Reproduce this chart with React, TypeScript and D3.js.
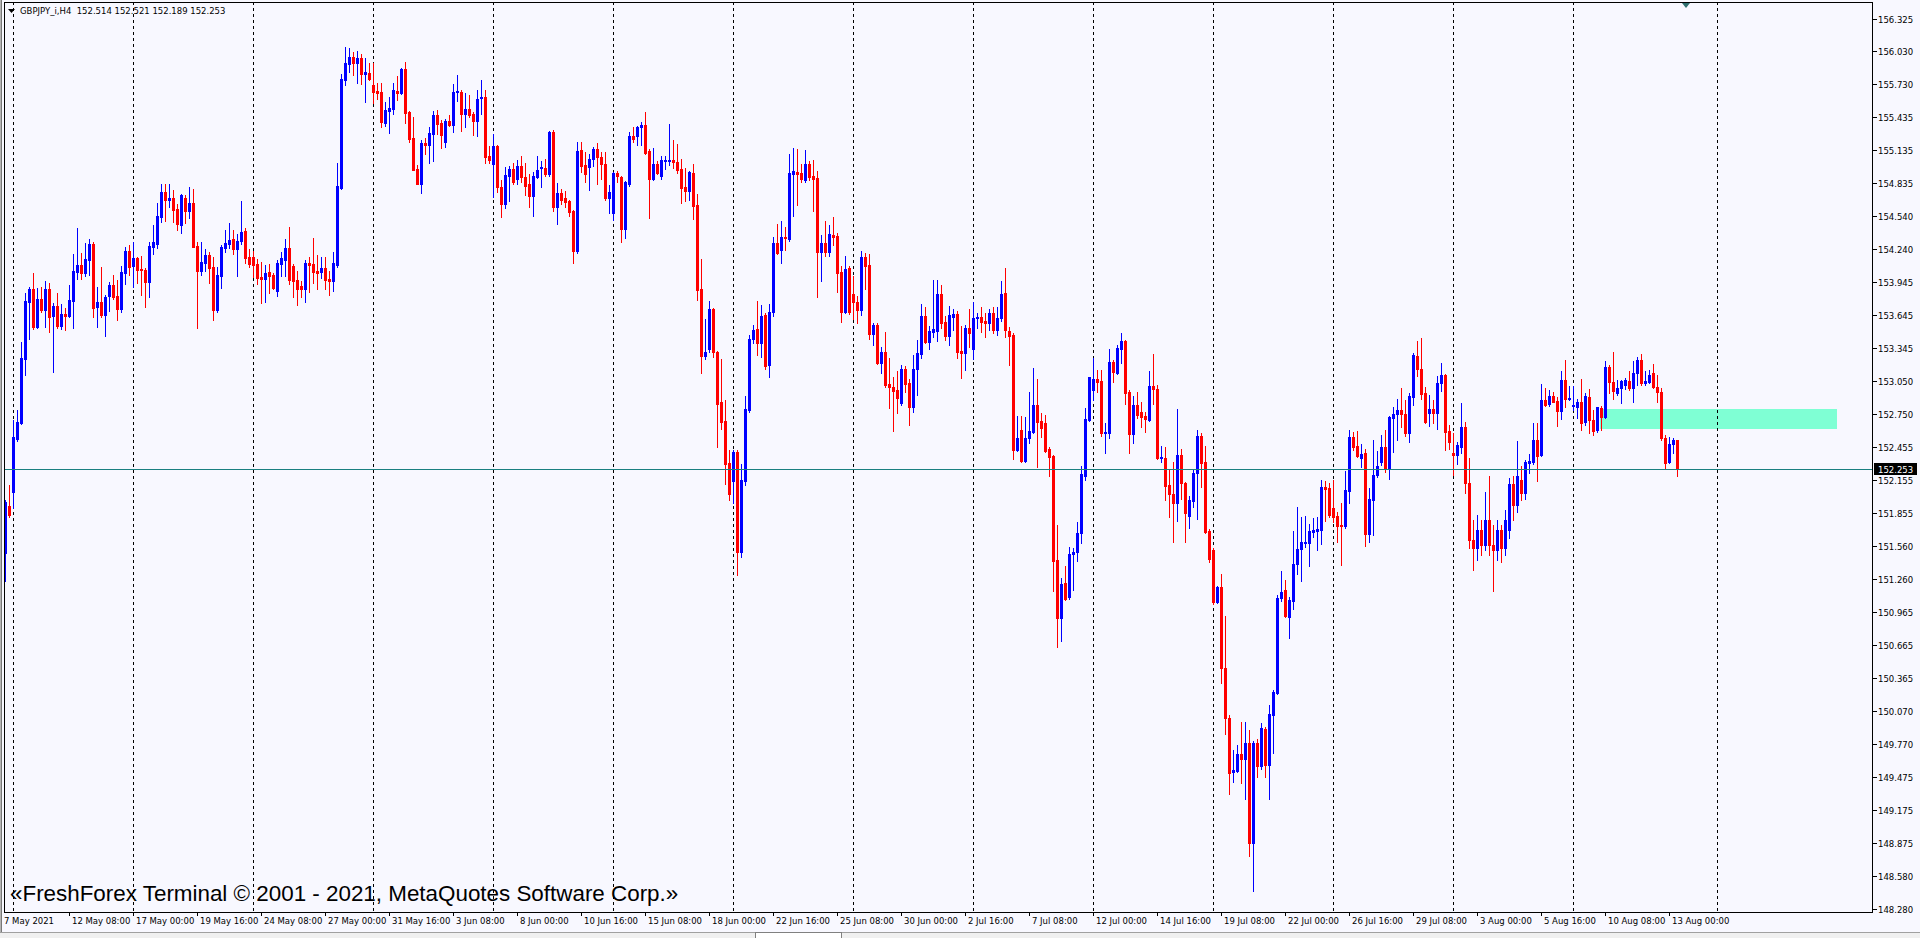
import React from 'react';
import * as d3 from 'd3';

const titleText = 'GBPJPY_i,H4  152.514 152.521 152.189 152.253';
const copyrightText = '«FreshForex Terminal © 2001 - 2021, MetaQuotes Software Corp.»';

const openP = [151.496,151.921,152.047,152.526,152.671,153.249,153.764,153.881,153.538,153.791,153.692,153.881,153.637,153.728,153.547,153.655,153.637,153.773,154.035,154.098,154.026,154.143,154.288,153.719,153.764,153.646,153.818,153.917,153.818,153.701,154.026,154.224,154.089,154.161,154.062,154.053,153.944,154.261,154.288,154.532,154.757,154.685,154.703,154.604,154.459,154.703,154.586,154.658,154.270,154.044,154.116,154.188,154.080,153.692,153.999,154.252,154.288,154.333,154.242,154.315,154.405,154.170,154.170,154.107,153.990,153.972,154.035,154.008,153.863,154.107,154.143,154.252,154.089,153.963,153.908,153.881,154.116,154.107,154.044,154.035,154.071,153.972,153.954,154.098,154.794,155.769,155.914,155.977,155.923,155.968,155.824,155.833,155.724,155.670,155.661,155.381,155.489,155.507,155.670,155.652,155.869,155.480,155.245,154.965,154.830,155.200,155.182,155.281,155.453,155.381,155.209,155.399,155.363,155.658,155.661,155.462,155.507,155.462,155.399,155.607,155.616,155.083,155.010,155.173,154.803,154.649,154.902,154.965,154.875,154.992,154.893,154.830,154.721,154.893,154.974,154.974,154.920,155.300,154.622,154.748,154.703,154.676,154.586,154.224,155.137,155.001,154.983,155.056,155.146,155.074,155.010,154.703,154.568,154.929,154.893,154.423,154.830,155.263,155.263,155.345,155.363,155.128,154.875,155.010,154.902,155.040,155.040,155.047,155.028,154.965,154.803,154.767,154.929,154.640,153.881,153.276,153.339,153.701,153.312,152.860,152.689,152.309,152.147,152.409,151.505,152.147,152.788,153.429,153.520,153.393,153.646,153.195,153.673,154.297,154.234,154.351,154.333,154.920,154.938,154.929,154.866,155.010,154.902,154.884,154.215,154.297,154.215,154.369,154.360,154.035,153.673,154.071,153.836,153.764,153.692,154.170,154.098,153.475,153.556,153.213,153.312,153.023,152.996,152.969,152.851,153.159,153.032,152.815,153.159,153.294,153.637,153.402,153.493,153.502,153.836,153.583,153.456,153.628,153.655,153.321,153.303,153.529,153.339,153.619,153.628,153.592,153.574,153.664,153.511,153.619,153.845,153.502,153.466,152.427,152.607,152.327,152.535,152.589,152.833,152.689,152.671,152.436,152.372,151.433,150.909,151.225,151.099,151.487,151.505,151.677,152.192,152.698,152.969,153.068,153.050,152.580,152.580,153.222,153.122,153.339,153.411,152.951,152.571,152.833,152.770,152.734,152.698,153.005,152.978,152.354,152.354,152.110,152.029,151.948,152.381,152.128,151.831,151.966,152.219,152.553,152.318,151.695,151.523,151.054,151.189,150.457,150.006,149.518,149.527,149.680,149.635,149.780,148.876,149.780,149.572,149.906,149.581,150.033,150.232,151.090,151.162,150.918,151.063,151.397,151.532,151.587,151.587,151.686,151.695,151.704,152.092,152.083,151.903,151.831,151.749,151.740,152.056,152.544,152.463,152.354,152.400,151.668,151.975,152.201,152.318,152.454,152.255,152.716,152.752,152.788,152.752,152.580,152.905,153.276,153.159,152.942,152.761,152.797,152.761,153.032,153.104,152.598,152.400,152.381,152.454,152.635,152.128,151.614,151.541,151.704,151.568,151.794,151.568,151.523,151.704,151.541,151.704,152.120,151.930,152.156,152.038,152.309,152.318,152.517,152.381,152.878,152.842,152.915,152.869,152.779,153.059,152.887,152.824,152.815,152.860,152.680,152.905,152.698,152.607,152.806,152.725,153.177,153.041,152.942,152.987,153.014,153.050,152.987,153.122,153.240,153.032,153.041,153.122,152.996,152.951,152.535,152.318,152.481,152.514];

const highP = [151.975,152.110,152.698,152.788,153.402,153.845,153.899,154.026,153.890,153.899,153.954,153.936,153.755,153.845,153.746,153.710,153.917,154.197,154.432,154.206,154.297,154.333,154.306,153.899,154.080,153.827,153.944,154.008,153.963,154.089,154.261,154.279,154.306,154.170,154.179,154.071,154.306,154.459,154.658,154.830,154.830,154.830,154.776,154.649,154.739,154.730,154.803,154.785,154.306,154.306,154.242,154.215,154.170,154.080,154.279,154.414,154.477,154.414,154.378,154.676,154.432,154.242,154.224,154.152,154.125,154.098,154.107,154.026,154.143,154.215,154.333,154.441,154.107,154.044,153.954,154.143,154.170,154.342,154.188,154.170,154.170,154.044,154.215,155.019,155.823,156.067,156.058,156.022,156.031,156.004,155.968,155.923,155.923,155.742,155.742,155.571,155.616,155.742,155.805,155.878,155.932,155.489,155.435,155.001,155.227,155.245,155.345,155.489,155.498,155.408,155.417,155.453,155.733,155.814,155.679,155.652,155.634,155.480,155.679,155.769,155.679,155.173,155.281,155.182,154.866,154.983,154.992,155.019,155.047,155.083,155.019,154.920,154.938,155.083,155.037,155.056,155.309,155.318,154.839,154.785,154.767,154.685,154.595,155.209,155.209,155.119,155.101,155.164,155.200,155.119,155.119,154.821,154.938,154.947,154.902,154.857,155.300,155.345,155.354,155.390,155.480,155.146,155.155,155.037,155.083,155.083,155.372,155.227,155.191,155.056,154.974,154.947,155.010,154.739,154.152,153.610,153.773,153.710,153.321,153.249,152.878,152.427,152.427,152.427,152.300,152.915,153.466,153.556,153.773,153.737,153.664,153.746,154.351,154.468,154.495,154.441,155.101,155.155,155.146,155.010,155.137,155.037,155.047,154.947,154.369,154.495,154.459,154.532,154.387,154.089,154.179,154.089,153.999,153.818,154.224,154.206,154.197,153.575,153.574,153.357,153.493,153.258,153.086,153.140,153.195,153.186,153.068,153.285,153.420,153.746,153.719,153.547,153.963,153.963,153.917,153.637,153.728,153.701,153.682,153.547,153.556,153.701,153.764,153.664,153.719,153.664,153.701,153.719,153.719,153.954,154.071,153.538,153.484,152.734,152.734,152.725,152.951,153.167,153.068,152.761,152.743,152.454,152.380,151.749,151.270,151.379,151.550,151.541,151.776,152.282,152.806,153.086,153.258,153.149,153.149,152.671,153.339,153.240,153.375,153.484,153.420,152.969,152.915,152.951,152.860,152.770,153.140,153.294,153.014,152.463,152.454,152.246,152.318,152.797,152.436,152.138,152.011,152.246,152.607,152.580,152.463,151.713,151.541,151.198,151.306,150.927,150.033,149.716,149.762,149.969,149.969,149.897,149.798,149.816,149.960,149.924,150.123,150.259,151.117,151.334,151.252,151.099,151.695,151.912,151.821,151.830,151.758,151.812,151.821,152.156,152.147,152.129,152.156,151.867,151.948,152.237,152.607,152.589,152.598,152.481,152.436,152.083,152.517,152.418,152.562,152.607,152.734,152.815,152.888,152.987,152.878,152.942,153.303,153.411,153.438,152.996,152.924,152.878,153.095,153.213,153.110,152.653,152.580,152.499,152.851,152.680,152.354,151.794,151.840,151.794,152.047,152.192,151.749,151.794,151.749,151.885,152.174,152.192,152.508,152.282,152.336,152.391,152.671,152.671,153.023,152.987,152.969,152.951,152.905,153.140,153.240,153.005,153.005,152.887,153.068,152.942,152.978,152.788,152.815,152.824,153.231,153.195,153.312,153.059,153.059,153.077,153.140,153.231,153.267,153.294,153.140,153.149,153.204,153.104,152.987,152.562,152.544,152.535,152.521];

const lowP = [151.243,151.821,151.903,152.508,152.660,153.104,153.429,153.520,153.530,153.673,153.538,153.493,153.131,153.529,153.520,153.511,153.628,153.529,153.972,153.972,153.999,154.008,153.628,153.538,153.628,153.457,153.682,153.791,153.601,153.673,153.926,154.008,153.899,153.936,153.827,153.719,153.809,154.197,154.252,154.486,154.495,154.622,154.486,154.414,154.387,154.477,154.523,154.261,153.529,154.008,154.044,153.936,153.601,153.673,153.890,154.215,154.252,154.197,153.999,154.288,154.116,154.080,153.990,153.926,153.755,153.764,153.845,153.881,153.818,153.999,153.999,153.926,153.809,153.737,153.809,153.764,153.854,153.936,153.881,153.981,153.881,153.827,153.863,154.080,154.785,155.724,155.842,155.814,155.742,155.733,155.571,155.769,155.562,155.598,155.345,155.354,155.290,155.462,155.589,155.643,155.381,155.209,154.956,154.830,154.748,155.101,155.019,155.037,155.281,155.155,155.164,155.354,155.300,155.580,155.309,155.345,155.435,155.272,155.263,155.462,155.019,155.019,154.712,154.757,154.532,154.613,154.676,154.830,154.830,154.848,154.730,154.622,154.541,154.884,154.803,154.902,154.902,154.586,154.468,154.649,154.622,154.541,154.116,154.206,154.938,154.848,154.776,154.992,154.830,154.875,154.685,154.568,154.505,154.848,154.306,154.342,154.812,155.209,155.182,155.182,155.101,154.523,154.866,154.920,154.875,154.965,155.001,154.974,154.929,154.658,154.676,154.685,154.514,153.782,153.122,153.249,153.312,153.267,152.454,152.616,152.120,151.975,151.948,151.297,151.460,152.110,152.770,153.393,153.285,153.267,153.159,153.086,153.637,154.197,154.116,154.234,154.315,154.541,154.640,154.848,154.848,154.866,154.586,153.809,153.954,154.179,154.179,154.279,153.854,153.583,153.664,153.655,153.610,153.574,153.646,153.881,153.429,153.375,153.204,153.122,152.996,152.806,152.598,152.761,152.833,152.951,152.653,152.770,152.924,153.258,153.393,153.339,153.448,153.411,153.529,153.420,153.375,153.511,153.258,153.077,153.149,153.357,153.249,153.529,153.493,153.448,153.511,153.484,153.466,153.592,153.448,153.195,152.345,152.418,152.318,152.318,152.490,152.580,152.273,152.544,152.409,152.192,151.153,150.647,150.701,151.072,151.081,151.162,151.424,151.587,152.156,152.690,152.878,152.951,152.553,152.400,152.535,153.041,153.115,153.213,152.842,152.400,152.490,152.716,152.635,152.589,152.689,152.842,152.345,152.318,151.975,151.821,151.596,151.785,151.984,151.596,151.722,151.912,151.803,152.092,151.677,151.415,151.035,151.045,150.322,149.861,149.319,149.427,149.520,149.418,149.274,148.759,148.443,149.473,149.545,149.473,149.274,149.689,150.222,151.063,150.918,150.728,150.990,151.306,151.243,151.550,151.379,151.641,151.523,151.577,151.785,151.821,151.776,151.596,151.388,151.722,151.948,152.427,152.363,152.273,151.559,151.596,151.659,152.183,152.291,152.228,152.165,152.409,152.517,152.635,152.553,152.499,152.833,153.095,152.888,152.671,152.644,152.671,152.616,152.960,152.427,152.436,152.201,152.300,152.400,152.038,151.541,151.343,151.433,151.478,151.523,151.478,151.153,151.433,151.415,151.478,151.632,151.794,151.867,151.975,151.984,152.219,152.300,152.147,152.372,152.824,152.824,152.860,152.644,152.707,152.815,152.878,152.788,152.716,152.607,152.653,152.580,152.562,152.589,152.607,152.716,152.942,152.887,152.924,152.851,152.978,152.969,152.860,153.014,153.014,153.014,153.032,152.987,152.860,152.517,152.264,152.309,152.400,152.189];

const closeP = [151.957,151.840,152.544,152.680,153.258,153.773,153.881,153.538,153.791,153.692,153.881,153.628,153.728,153.547,153.655,153.637,153.782,154.044,154.098,154.026,154.152,154.288,153.710,153.764,153.646,153.809,153.917,153.809,153.701,154.035,154.224,154.080,154.161,154.053,154.050,153.944,154.270,154.306,154.541,154.757,154.685,154.703,154.595,154.468,154.730,154.586,154.658,154.265,154.044,154.125,154.188,154.071,153.692,154.008,154.261,154.297,154.324,154.242,154.315,154.396,154.161,154.107,154.098,153.981,153.972,154.026,153.999,153.890,154.116,154.161,154.252,153.963,153.954,153.881,153.881,154.116,154.098,154.035,154.030,154.071,153.963,153.954,154.116,154.812,155.778,155.923,155.977,155.923,155.968,155.824,155.842,155.778,155.661,155.652,155.390,155.498,155.516,155.679,155.652,155.869,155.471,155.236,154.960,154.834,155.200,155.182,155.290,155.453,155.372,155.272,155.399,155.363,155.661,155.670,155.462,155.507,155.453,155.399,155.598,155.616,155.074,155.047,155.173,154.803,154.649,154.911,154.965,154.848,154.992,154.893,154.812,154.721,154.902,154.956,154.983,154.920,155.300,154.622,154.748,154.685,154.667,154.577,154.224,155.128,154.992,154.920,155.056,155.146,155.074,155.010,154.703,154.757,154.929,154.902,154.423,154.848,155.263,155.236,155.345,155.363,155.110,154.875,155.010,154.929,155.047,155.047,155.047,155.028,154.956,154.794,154.767,154.938,154.631,153.872,153.276,153.312,153.701,153.312,152.842,152.680,152.300,152.029,152.409,151.505,152.156,152.797,153.429,153.511,153.393,153.637,153.186,153.673,154.297,154.206,154.351,154.342,154.929,154.947,154.920,154.875,155.010,154.893,154.875,154.215,154.297,154.215,154.378,154.351,154.026,153.673,154.062,153.673,153.764,153.692,154.170,154.089,153.475,153.556,153.213,153.312,153.014,152.996,152.960,152.897,153.159,153.023,152.815,153.159,153.303,153.637,153.402,153.502,153.520,153.836,153.574,153.456,153.646,153.655,153.312,153.303,153.529,153.484,153.619,153.628,153.583,153.574,153.664,153.511,153.619,153.836,153.511,153.456,152.427,152.535,152.327,152.535,152.598,152.833,152.680,152.625,152.418,152.363,151.424,150.909,151.216,151.081,151.487,151.505,151.677,152.210,152.707,153.086,153.068,153.041,152.580,152.589,153.222,153.131,153.348,153.411,152.942,152.571,152.833,152.743,152.725,152.707,153.005,152.978,152.354,152.363,152.101,152.029,151.948,152.381,152.128,151.858,151.975,152.219,152.553,152.309,151.686,151.442,151.054,151.189,150.457,150.006,149.509,149.536,149.680,149.635,149.780,148.876,149.780,149.572,149.915,149.581,150.042,150.241,151.090,151.144,150.927,151.072,151.397,151.532,151.596,151.596,151.695,151.704,151.713,152.092,152.074,151.840,151.821,151.740,151.740,152.065,152.544,152.454,152.372,152.391,151.668,151.984,152.201,152.282,152.454,152.255,152.725,152.752,152.788,152.752,152.580,152.915,153.285,153.159,152.933,152.680,152.797,152.761,153.032,153.104,152.589,152.499,152.381,152.472,152.635,152.128,151.614,151.541,151.704,151.568,151.794,151.568,151.523,151.704,151.541,151.794,152.120,151.930,152.192,152.038,152.318,152.327,152.517,152.372,152.878,152.833,152.915,152.860,152.779,153.059,152.887,152.897,152.830,152.860,152.671,152.915,152.698,152.598,152.815,152.725,153.177,153.041,152.960,152.987,153.050,153.059,152.987,153.122,153.240,153.032,153.050,153.104,152.996,152.951,152.535,152.309,152.481,152.517,152.253];

const priceTickLabels = ['156.325','156.030','155.730','155.435','155.135','154.835','154.540','154.240','153.945','153.645','153.345','153.050','152.750','152.455','152.155','151.855','151.560','151.260','150.965','150.665','150.365','150.070','149.770','149.475','149.175','148.875','148.580','148.280'];

const timeLabelBars = [0,16,32,48,64,80,96,112,128,144,160,176,192,208,224,240,256,272,288,304,320,336,352,368,384,400,416];
const timeLabelTexts = ['7 May 2021','12 May 08:00','17 May 00:00','19 May 16:00','24 May 08:00','27 May 00:00','31 May 16:00','3 Jun 08:00','8 Jun 00:00','10 Jun 16:00','15 Jun 08:00','18 Jun 00:00','22 Jun 16:00','25 Jun 08:00','30 Jun 00:00','2 Jul 16:00','7 Jul 08:00','12 Jul 00:00','14 Jul 16:00','19 Jul 08:00','22 Jul 00:00','26 Jul 16:00','29 Jul 08:00','3 Aug 00:00','5 Aug 16:00','10 Aug 08:00','13 Aug 00:00'];

const weekGridBars = [2,32,62,92,122,152,182,212,242,272,302,332,362,392,428];

const bidPrice = 152.253;
const bidText = '152.253';
const zoneTopPrice = 152.797;
const zoneBottomPrice = 152.617;
const zoneStartBar = 399;
const zoneEndBar = 458;
const shiftMarkerBar = 420;

const AXIS_FONT = '"DejaVu Sans", Verdana, sans-serif';

export default function App() {
  const W = 1920;
  const H = 938;
  const plotLeft = 4;
  const plotRight = 1872;
  const plotTop = 2;
  const plotBottom = 912;

  const x = d3.scaleLinear().domain([0, 418]).range([5, 5 + 4 * 418]);
  const y = d3.scaleLinear().domain([148.28, 156.325]).range([909, 18.5]);
  const py = (v: number) => Math.round(y(v));

  const bars = d3.range(openP.length).map((i) => ({
    i,
    o: openP[i],
    h: highP[i],
    l: lowP[i],
    c: closeP[i],
  }));

  const bidY = Math.floor(y(bidPrice)) + 0.5;

  return (
    <svg width={W} height={H} style={{ display: 'block', position: 'absolute', left: 0, top: 0 }}>
      <defs>
        <clipPath id="plotClip">
          <rect x={plotLeft + 1} y={plotTop + 1} width={plotRight - plotLeft - 1} height={plotBottom - plotTop - 1} />
        </clipPath>
      </defs>
      <rect x={0} y={0} width={W} height={H} fill="#F8F8FF" />

      <rect x={0} y={0} width={1} height={H} fill="#B4B4B4" />
      <rect x={1} y={0} width={1} height={H} fill="#787878" />

      <g clipPath="url(#plotClip)" shapeRendering="crispEdges">
        <rect
          x={x(zoneStartBar) - 1}
          y={py(zoneTopPrice)}
          width={x(zoneEndBar) - x(zoneStartBar) + 1}
          height={py(zoneBottomPrice) - py(zoneTopPrice)}
          fill="#7FFFD4"
        />
        {weekGridBars.map((b) => (
          <line
            key={'g' + b}
            x1={x(b) + 0.5}
            x2={x(b) + 0.5}
            y1={plotTop}
            y2={plotBottom}
            stroke="#000"
            strokeWidth={1}
            strokeDasharray="3,3"
          />
        ))}
        {bars.map((d) => {
          const bull = d.c >= d.o;
          const col = bull ? '#0000FF' : '#FF0000';
          const xc = x(d.i);
          const yo = py(d.o);
          const yc = py(d.c);
          const top = Math.min(yo, yc);
          const bot = Math.max(yo, yc);
          const yh = Math.min(py(d.h), top);
          const yl = Math.max(py(d.l), bot);
          return (
            <g key={d.i}>
              <rect x={xc} y={yh} width={1} height={yl - yh + 1} fill={col} />
              <rect x={xc - 1} y={top} width={3} height={bot - top + 1} fill={col} />
            </g>
          );
        })}
        <line x1={plotLeft} x2={plotRight} y1={bidY} y2={bidY} stroke="#1A7F80" strokeWidth={1} />
      </g>

      <rect
        x={plotLeft + 0.5}
        y={plotTop + 0.5}
        width={plotRight - plotLeft}
        height={plotBottom - plotTop}
        fill="none"
        stroke="#000"
        strokeWidth={1}
        shapeRendering="crispEdges"
      />

      <polygon points="8,9 15,9 11.5,13" fill="#000" />
      <text x={20} y={13.5} fontFamily={AXIS_FONT} fontSize={8.5} fill="#000" style={{ whiteSpace: 'pre' }}>
        {titleText}
      </text>

      <polygon
        points={`${x(shiftMarkerBar) - 3},${plotTop + 1} ${x(shiftMarkerBar) + 5},${plotTop + 1} ${x(shiftMarkerBar) + 1},${plotTop + 6}`}
        fill="#2F6F6F"
      />

      <g shapeRendering="crispEdges">
        {priceTickLabels.map((t) => {
          const yy = Math.round(y(+t)) + 0.5;
          return (
            <line key={'pt' + t} x1={plotRight + 0.5} x2={plotRight + 4.5} y1={yy} y2={yy} stroke="#000" />
          );
        })}
      </g>
      {priceTickLabels.map((t) => (
        <text key={'pl' + t} x={plotRight + 6} y={Math.round(y(+t)) + 3.5} fontFamily={AXIS_FONT} fontSize={8.5} fill="#000">
          {t}
        </text>
      ))}

      <rect x={plotRight + 2} y={Math.round(y(bidPrice)) - 6} width={43} height={12} fill="#000" />
      <text x={plotRight + 6} y={Math.round(y(bidPrice)) + 3.5} fontFamily={AXIS_FONT} fontSize={8.5} fill="#FFF">
        {bidText}
      </text>

      <g shapeRendering="crispEdges">
        {timeLabelBars.map((b, k) =>
          k === 0 ? null : (
            <line key={'tt' + b} x1={x(b) + 0.5} x2={x(b) + 0.5} y1={plotBottom} y2={plotBottom + 4} stroke="#000" />
          )
        )}
      </g>
      {timeLabelBars.map((b, k) => (
        <text
          key={'tl' + b}
          x={k === 0 ? x(b) - 1 : x(b) + 3}
          y={plotBottom + 12}
          fontFamily={AXIS_FONT}
          fontSize={8.5}
          fill="#000"
        >
          {timeLabelTexts[k]}
        </text>
      ))}

      <text x={10} y={901} fontFamily='"Liberation Sans", Arial, sans-serif' fontSize={22.4} fill="#000">
        {copyrightText}
      </text>

      <rect x={0} y={932} width={W} height={6} fill="#F0F0F0" />
      <line x1={0} x2={W} y1={932.5} y2={932.5} stroke="#A0A0A0" shapeRendering="crispEdges" />
      <rect x={755.5} y={932.5} width={86} height={6} fill="#FFFFFF" stroke="#808080" shapeRendering="crispEdges" />
    </svg>
  );
}
